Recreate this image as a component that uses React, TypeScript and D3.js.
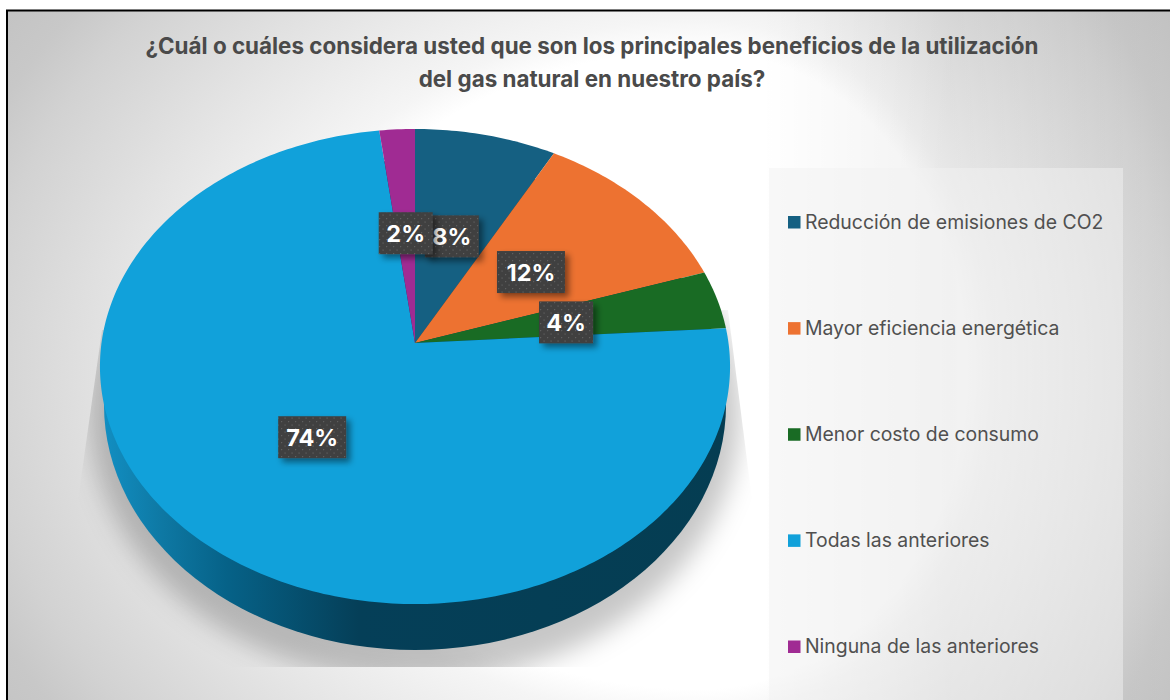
import React from "react";
import * as d3 from "d3";

const categories = [
  "Reducción de emisiones de CO2",
  "Mayor eficiencia energética",
  "Menor costo de consumo",
  "Todas las anteriores",
  "Ninguna de las anteriores",
];
const values = [8, 12, 4, 74, 2];
const colors = ["#156082", "#ED7231", "#196B24", "#11A1DA", "#A02B93"];
const titleLines = [
  "¿Cuál o cuáles considera usted que son los principales beneficios de la utilización",
  "del gas natural en nuestro país?",
];

const width = 1170;
const height = 700;

// tilted disc: apex of the slices and a small perspective term
const cx = 415;
const cy = 343;
const a = 313.5;
const b = 235.2;
const p = 0.099;
const labelRadius = 0.495;

const project = (angle: number, r = 1): [number, number] => {
  const u = Math.sin(angle) * r;
  const v = Math.cos(angle) * r;
  const w = 1 + p * v;
  return [cx + (a * u) / w, cy - (b * v) / w];
};

const color = d3.scaleOrdinal<string, string>().domain(categories).range(colors);
const slices = d3.pie<number>().sort(null)(values);
const legendY = d3.scalePoint<string>().domain(categories).range([222, 646.5]);
const line = d3.line();

const slicePath = (start: number, end: number) => {
  const n = Math.max(2, Math.ceil((end - start) * 60));
  const pts = d3.range(n + 1).map((i) => project(start + ((end - start) * i) / n));
  return line([[cx, cy], ...pts]) + "Z";
};

// background falloff, same ramp on both sides of x = 700
const bgStops: [number, string][] = [
  [0, "#ffffff"],
  [0.57, "#ffffff"],
  [0.625, "#f5f5f5"],
  [0.8, "#e5e5e5"],
  [0.937, "#d8d8d8"],
  [1, "#d2d2d2"],
  [1.08, "#c8c8c8"],
  [1.2, "#c1c1c1"],
];

const BgGradient = ({ id, rx }: { id: string; rx: number }) => (
  <radialGradient
    id={id}
    gradientUnits="userSpaceOnUse"
    cx={0}
    cy={0}
    r={1.2}
    gradientTransform={`translate(700 370) scale(${rx} 560)`}
  >
    {bgStops.map(([t, c]) => (
      <stop key={t} offset={t / 1.2} stopColor={c} />
    ))}
  </radialGradient>
);

const App = () => {
  return (
    <svg
      width={width}
      height={height}
      style={{ position: "absolute", left: 0, top: 0, display: "block" }}
      fontFamily="Inter, 'Noto Sans', sans-serif"
    >
      <defs>
        <BgGradient id="bgLeft" rx={720} />
        <BgGradient id="bgRight" rx={470} />
        {/* softens the right side so the white doesn't end in a visible ring */}
        <linearGradient id="bgSoft" gradientUnits="userSpaceOnUse" x1={760} x2={1170} y1={0} y2={0}>
          <stop offset="0" stopColor="#000" stopOpacity={0} />
          <stop offset="0.46" stopColor="#000" stopOpacity={0.055} />
          <stop offset="0.71" stopColor="#000" stopOpacity={0.03} />
          <stop offset="1" stopColor="#000" stopOpacity={0} />
        </linearGradient>
        <linearGradient id="wall" gradientUnits="userSpaceOnUse" x1={100} x2={730} y1={0} y2={0}>
          <stop offset="0" stopColor="#1290c4" />
          <stop offset="0.1" stopColor="#0e78a3" />
          <stop offset="0.2" stopColor="#066288" />
          <stop offset="0.41" stopColor="#053f58" />
          <stop offset="1" stopColor="#053d52" />
        </linearGradient>
        <pattern id="dots" width={7} height={7} patternUnits="userSpaceOnUse">
          <rect width={7} height={7} fill="#404040" />
          <rect x={1} y={1} width={1.2} height={1.2} fill="#5e5e5e" />
          <rect x={4.5} y={4.5} width={1.2} height={1.2} fill="#5e5e5e" />
        </pattern>
        <filter id="boxShadow" x="-30%" y="-30%" width="170%" height="170%">
          <feDropShadow dx={4} dy={4} stdDeviation={3} floodColor="#000" floodOpacity={0.45} />
        </filter>
        <filter id="discShadow" x="-20%" y="-20%" width="140%" height="140%">
          <feGaussianBlur stdDeviation={13} />
        </filter>
        <clipPath id="shadowClip">
          <polygon points="102,330 78,500 78,667 752,667 752,500 728,310" />
        </clipPath>
      </defs>

      <rect x={7} y={10.5} width={693} height={height} fill="url(#bgLeft)" />
      <rect x={700} y={10.5} width={width - 700} height={height} fill="url(#bgRight)" />
      <rect x={760} y={10.5} width={width - 760} height={height} fill="url(#bgSoft)" />
      <path d={`M${width},10.5H7V${height}`} fill="none" stroke="#000" strokeWidth={2} />

      <rect x={769} y={168} width={354} height={532} fill="#f2f2f2" fillOpacity={0.5} />

      <g clipPath="url(#shadowClip)">
        <ellipse cx={cx} cy={412} rx={325} ry={270} fill="#000" fillOpacity={0.22} filter="url(#discShadow)" />
      </g>

      {/* side wall sits under the slices, only its front shows */}
      <ellipse cx={cx} cy={405} rx={311} ry={245} fill="url(#wall)" />

      {slices.map((s, i) => (
        <path key={categories[i]} d={slicePath(s.startAngle, s.endAngle)} fill={color(categories[i])} />
      ))}

      {slices.map((s, i) => {
        const [x, y0] = project((s.startAngle + s.endAngle) / 2, labelRadius);
        const y = y0 + 1;
        const label = `${values[i]}%`;
        const w = label.length === 2 ? 54 : 68;
        return (
          <g key={label}>
            <rect x={x - w / 2} y={y - 21} width={w} height={42} fill="url(#dots)" filter="url(#boxShadow)" />
            <text x={x} y={y + 8.5} textAnchor="middle" fontSize={23.5} fontWeight={700} fill="#fff">
              {label}
            </text>
          </g>
        );
      })}

      <text textAnchor="middle" fontSize={22.4} fontWeight={700} fill="#4a4a4a">
        {titleLines.map((t, i) => (
          <tspan key={t} x={592} y={53.5 + i * 33}>
            {t}
          </tspan>
        ))}
      </text>

      {categories.map((c) => {
        const y = legendY(c) as number;
        return (
          <g key={c}>
            <rect x={788} y={y - 6} width={12.5} height={12.5} fill={color(c)} />
            <text x={805} y={y + 6.5} fontSize={19.4} fill="#505050">
              {c}
            </text>
          </g>
        );
      })}
    </svg>
  );
};

export default App;
